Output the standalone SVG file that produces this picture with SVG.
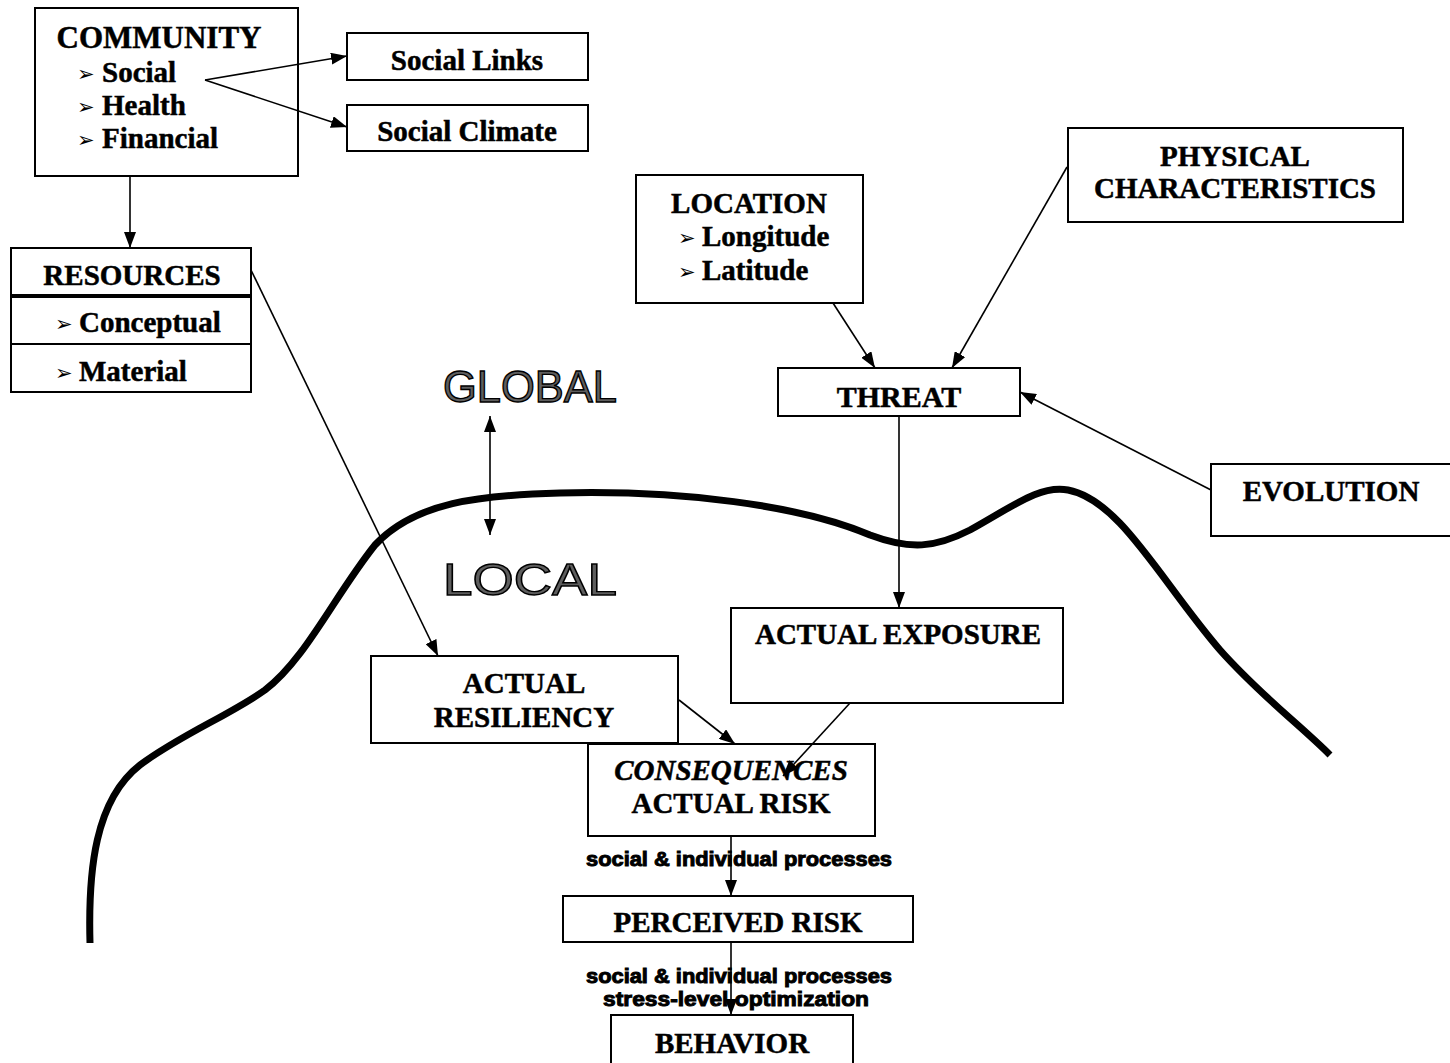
<svg xmlns="http://www.w3.org/2000/svg" width="1450" height="1063" viewBox="0 0 1450 1063">
<style>
.box{fill:#fff;stroke:#000;stroke-width:2}
.t{font-family:"Liberation Serif","Times New Roman",serif;font-weight:bold;font-size:29px;fill:#000;stroke:#000;stroke-width:0.5}
.c{text-anchor:middle}
.bul{font-family:"DejaVu Sans",sans-serif;font-size:21px;fill:#000}
.lbl{font-family:"Liberation Sans",Arial,sans-serif;font-weight:bold;font-size:21px;fill:#000;stroke:#000;stroke-width:1;text-anchor:middle}
.big{font-family:"Liberation Sans",Arial,sans-serif;font-size:45px;fill:#5e5e5e;stroke:#000;stroke-width:1.4}
.ln{stroke:#000;stroke-width:1.6;fill:none}
</style>
<defs>
<marker id="ah" viewBox="0 0 16 12" refX="16" refY="6" markerWidth="16" markerHeight="12" markerUnits="userSpaceOnUse" orient="auto-start-reverse">
<path d="M0,0 L16,6 L0,12 z" fill="#000"/>
</marker>
</defs>
<rect width="1450" height="1063" fill="#fff"/>

<path id="horizon" d="M90,943 C88,870 95,800 140,765 C180,735 230,715 265,690 C305,660 335,595 375,545 C415,502 480,495 560,493 C680,490 800,505 870,535 C910,550 935,548 970,530 C1015,505 1040,485 1068,490 C1120,500 1160,580 1220,650 C1260,695 1300,725 1330,755" fill="none" stroke="#000" stroke-width="7"/>

<g id="community">
<rect class="box" x="35" y="8" width="263" height="168"/>
<text class="t c" x="159" y="48" style="font-size:31px">COMMUNITY</text>
<text class="bul" x="77" y="81">➢</text><text class="t" x="102" y="82">Social</text>
<text class="bul" x="77" y="114">➢</text><text class="t" x="102" y="115">Health</text>
<text class="bul" x="77" y="147">➢</text><text class="t" x="102" y="148">Financial</text>
</g>
<g id="social-links">
<rect class="box" x="347" y="33" width="241" height="47"/>
<text class="t c" x="467" y="70">Social Links</text>
</g>
<g id="social-climate">
<rect class="box" x="347" y="105" width="241" height="46"/>
<text class="t c" x="467" y="141">Social Climate</text>
</g>
<g id="resources">
<rect class="box" x="11" y="248" width="240" height="47"/>
<rect class="box" x="11" y="297" width="240" height="47"/>
<rect class="box" x="11" y="344" width="240" height="48"/>
<text class="t c" x="132" y="285">RESOURCES</text>
<text class="bul" x="55" y="331">➢</text><text class="t" x="79" y="332">Conceptual</text>
<text class="bul" x="55" y="380">➢</text><text class="t" x="79" y="381">Material</text>
</g>
<g id="global-local">
<text class="big" x="443" y="402" textLength="174" lengthAdjust="spacingAndGlyphs">GLOBAL</text>
<text class="big" x="443" y="595" textLength="174" lengthAdjust="spacingAndGlyphs">LOCAL</text>
</g>
<g id="location">
<rect class="box" x="636" y="175" width="227" height="128"/>
<text class="t c" x="749" y="213">LOCATION</text>
<text class="bul" x="678" y="245">➢</text><text class="t" x="702" y="246">Longitude</text>
<text class="bul" x="678" y="279">➢</text><text class="t" x="702" y="280">Latitude</text>
</g>
<g id="physical">
<rect class="box" x="1068" y="128" width="335" height="94"/>
<text class="t c" x="1235" y="166">PHYSICAL</text>
<text class="t c" x="1235" y="198">CHARACTERISTICS</text>
</g>
<g id="threat">
<rect class="box" x="778" y="368" width="242" height="48"/>
<text class="t c" x="899" y="407" style="font-size:30px">THREAT</text>
</g>
<g id="evolution">
<rect class="box" x="1211" y="464" width="240" height="72"/>
<text class="t c" x="1331" y="501">EVOLUTION</text>
</g>
<g id="actual-exposure">
<rect class="box" x="731" y="608" width="332" height="95"/>
<text class="t c" x="898" y="644">ACTUAL EXPOSURE</text>
</g>
<g id="actual-resiliency">
<rect class="box" x="371" y="656" width="307" height="87"/>
<text class="t c" x="524" y="693">ACTUAL</text>
<text class="t c" x="524" y="727">RESILIENCY</text>
</g>
<g id="consequences">
<rect class="box" x="588" y="744" width="287" height="92"/>
<text class="t c" x="731" y="780" font-style="italic">CONSEQUENCES</text>
<text class="t c" x="731" y="813">ACTUAL RISK</text>
</g>
<g id="perceived-risk">
<rect class="box" x="563" y="896" width="350" height="46"/>
<text class="t c" x="738" y="932">PERCEIVED RISK</text>
</g>
<g id="behavior">
<rect class="box" x="611" y="1015" width="242" height="50"/>
<text class="t c" x="732" y="1053">BEHAVIOR</text>
</g>

<g id="connectors">
<line class="ln" x1="205" y1="80" x2="347" y2="56" marker-end="url(#ah)"/>
<line class="ln" x1="205" y1="80" x2="347" y2="127" marker-end="url(#ah)"/>
<line class="ln" x1="130" y1="176" x2="130" y2="248" marker-end="url(#ah)"/>
<line class="ln" x1="251" y1="270" x2="438" y2="656" marker-end="url(#ah)"/>
<line class="ln" x1="490" y1="416" x2="490" y2="535" marker-start="url(#ah)" marker-end="url(#ah)"/>
<line class="ln" x1="833" y1="303" x2="875" y2="368" marker-end="url(#ah)"/>
<line class="ln" x1="1067" y1="167" x2="952" y2="368" marker-end="url(#ah)"/>
<line class="ln" x1="1211" y1="490" x2="1020" y2="392" marker-end="url(#ah)"/>
<line class="ln" x1="899" y1="416" x2="899" y2="608" marker-end="url(#ah)"/>
<line class="ln" x1="679" y1="700" x2="735" y2="744" marker-end="url(#ah)"/>
<line class="ln" x1="850" y1="703" x2="783" y2="776" marker-end="url(#ah)"/>
<line class="ln" x1="731" y1="836" x2="731" y2="896" marker-end="url(#ah)"/>
<line class="ln" x1="731" y1="942" x2="731" y2="1015" marker-end="url(#ah)"/>
<text class="lbl" x="739" y="866" textLength="306" lengthAdjust="spacingAndGlyphs">social &amp; individual processes</text>
<text class="lbl" x="739" y="983" textLength="306" lengthAdjust="spacingAndGlyphs">social &amp; individual processes</text>
<text class="lbl" x="736" y="1006" textLength="266" lengthAdjust="spacingAndGlyphs">stress-level optimization</text>
</g>
</svg>
